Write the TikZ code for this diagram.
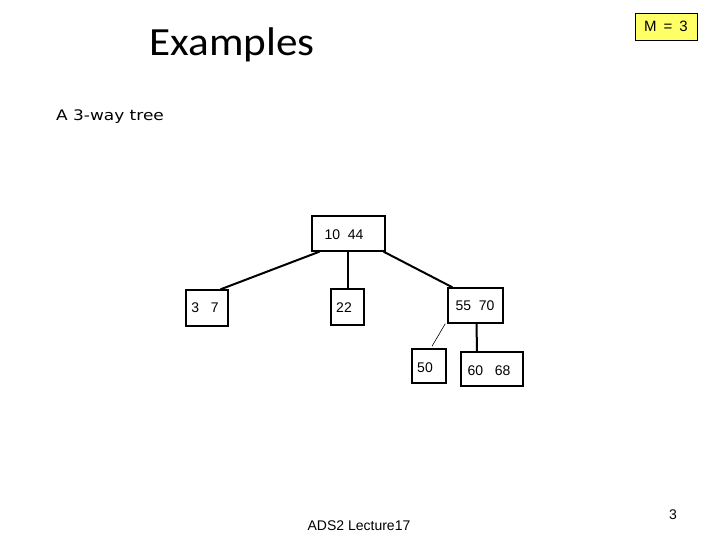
\documentclass[tikz,border=0pt]{standalone}
\usepackage{fontspec}
\setmainfont{Liberation Sans}
\newfontfamily\titlefont{Carlito}
\newfontfamily\subfont{DejaVu Sans}
\usetikzlibrary{calc}
\definecolor{myyellow}{RGB}{255,255,102}
\tikzset{
  treebox/.style={draw=black, line width=1.5pt, rectangle, inner sep=0pt},
  treetext/.style={inner sep=0pt, font=\fontsize{14}{16}\selectfont, anchor=center},
  thickedge/.style={line width=2pt, line cap=round},
  thinedge/.style={line width=0.6pt},
}
\begin{document}
\begin{tikzpicture}[x=1pt,y=-1pt]
\useasboundingbox (0,0) rectangle (720,540);
% title
\node[inner sep=0pt, font=\titlefont\fontsize{40}{44}\selectfont, xscale=1.08] (title) at (232,45) {Examples};
\node[inner sep=0pt, font=\subfont\fontsize{14.5}{17}\selectfont, xscale=1.17] (sub) at (110,117) {A 3-way tree};
% M = 3 box
\node[draw=black, fill=myyellow, line width=0.8pt, minimum width=62pt, minimum height=27pt, inner sep=0pt, font=\fontsize{15}{17}\selectfont] (mbox) at (666,26.5) {M\hspace{7pt}=\hspace{7pt}3};
% boxes
\node[treebox, minimum width=73pt, minimum height=35pt] (root) at (348.5,233.5) {};
\node[treebox, minimum width=42pt, minimum height=36pt] (b37) at (207,308) {};
\node[treebox, minimum width=33pt, minimum height=36pt] (b22) at (347.5,307) {};
\node[treebox, minimum width=55pt, minimum height=35pt] (b5570) at (475.5,305.5) {};
\node[treebox, minimum width=34pt, minimum height=34pt] (b50) at (429,366) {};
\node[treebox, minimum width=62pt, minimum height=34pt] (b6068) at (492,369) {};
% texts
\node[treetext] (t1044) at (344,235) {10\ \ 44};
\node[treetext] (t37) at (205,308) {3\ \ \ 7};
\node[treetext] (t22) at (344,308) {22};
\node[treetext] (t5570) at (475,306) {55\ \ 70};
\node[treetext] (t50) at (425,368) {50};
\node[treetext] (t6068) at (489,371) {60\ \ \ 68};
% connectors
\draw[thickedge] ($(root.south west)+(8,0)$) -- ($(b37.north east)+(-8,0)$);
\draw[thickedge] (root.south -| b22.north) -- (b22.north);
\draw[thickedge] ($(root.south east)+(-2,0)$) -- ($(b5570.north west)+(5,0)$);
\draw[thinedge] ($(b5570.south west)+(-2,0)$) -- ($(b50.north)+(3,-2)$);
\draw[thickedge] ($(b5570.south)+(1,0)$) -- ($(b6068.north)+(-15,0)$);
% footer
\node[inner sep=0pt, font=\fontsize{14}{16}\selectfont] (footer) at (359,526) {ADS2 Lecture17};
\node[inner sep=0pt, font=\fontsize{14}{16}\selectfont] (pagenum) at (673,515) {3};
\end{tikzpicture}
\end{document}
